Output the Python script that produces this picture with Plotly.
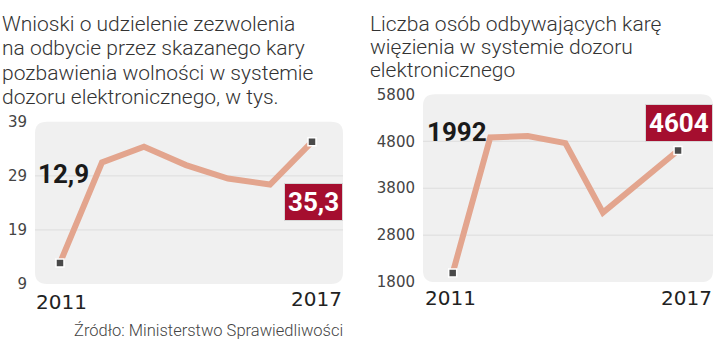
import plotly.graph_objects as go

years = [2011, 2012, 2013, 2014, 2015, 2016, 2017]
wnioski = [12.9, 31.5, 34.4, 31.0, 28.5, 27.4, 35.3]
osoby = [1992, 4880, 4910, 4760, 3280, 3940, 4604]
left_ticks = [9, 19, 29, 39]
right_ticks = [1800, 2800, 3800, 4800, 5800]
year_labels = [2011, 2017]

title_left = ["Wnioski o udzieleni\u0065 zezwolenia", "na odbycie przez skazanego kary",
              "pozbawienia wolności w systemie", "dozoru elektronicznego, w tys."]
title_right = ["Liczba osób odbywających karę", "więzienia w systemie dozoru", "elektronicznego"]
source = "Źródło: Ministerstwo Sprawiedliwości"

W, H = 720, 348
LINE = "#e3a58e"
RED = "#a50e2f"
FONT = "Roboto"
NUMFONT = "DejaVu Sans"

def px(x):
    return x / W

def py(y):
    return 1 - y / H

fig = go.Figure()

for xa, ya, vals in (("x", "y", wnioski), ("x2", "y2", osoby)):
    fig.add_trace(go.Scatter(x=years, y=vals, xaxis=xa, yaxis=ya, mode="lines",
                             line=dict(color=LINE, width=6), hoverinfo="skip", showlegend=False))
    fig.add_trace(go.Scatter(x=[years[0], years[-1]], y=[vals[0], vals[-1]], xaxis=xa, yaxis=ya,
                             mode="markers",
                             marker=dict(symbol="square", size=8, color="#4a4a4a",
                                         line=dict(color="white", width=1.5)),
                             hoverinfo="skip", showlegend=False))

def rounded(x0, y0, x1, y1, r=12):
    X0, X1 = px(x0), px(x1)
    Y0, Y1 = py(y1), py(y0)
    rx, ry = r / W, r / H
    return (f"M {X0+rx} {Y1} L {X1-rx} {Y1} Q {X1} {Y1} {X1} {Y1-ry} "
            f"L {X1} {Y0+ry} Q {X1} {Y0} {X1-rx} {Y0} L {X0+rx} {Y0} "
            f"Q {X0} {Y0} {X0} {Y0+ry} L {X0} {Y1-ry} Q {X0} {Y1} {X0+rx} {Y1} Z")

shapes = [
    dict(type="path", xref="paper", yref="paper", path=rounded(35, 119, 343, 290),
         fillcolor="#f0f0f0", line=dict(width=0), layer="below"),
    dict(type="path", xref="paper", yref="paper", path=rounded(423, 90, 713, 288),
         fillcolor="#f0f0f0", line=dict(width=0), layer="below"),
]
for t in left_ticks[1:-1]:
    shapes.append(dict(type="line", xref="x domain", yref="y", x0=0, x1=1, y0=t, y1=t,
                       line=dict(color="#dddddd", width=1), layer="below"))
for t in right_ticks[1:-1]:
    shapes.append(dict(type="line", xref="x2 domain", yref="y2", x0=0, x1=1, y0=t, y1=t,
                       line=dict(color="#dddddd", width=1), layer="below"))

def fmt(v):
    return f"{v:.1f}".replace(".", ",") if isinstance(v, float) else str(v)

TITLE_FONT = dict(family=FONT, size=21, color="#333", weight=300)
annotations = []
for line, yc in zip(title_left, [15.5, 41.3, 67.1, 92.8]):
    annotations.append(dict(text=line, x=px(1), y=py(yc), xref="paper", yref="paper",
                            xanchor="left", yanchor="middle", showarrow=False, font=TITLE_FONT,
                            borderpad=0))
for line, yc in zip(title_right, [15.5, 40.0, 64.5]):
    annotations.append(dict(text=line, x=px(369), y=py(yc), xref="paper", yref="paper",
                            xanchor="left", yanchor="middle", showarrow=False, font=TITLE_FONT,
                            borderpad=0))

annotations += [
    dict(text=source, x=px(344), y=py(339.5), xref="paper", yref="paper", xanchor="right",
         yanchor="middle", showarrow=False, borderpad=0,
         font=dict(family=FONT, size=16.5, color="#444", weight=300)),
    dict(text=f"<b>{fmt(wnioski[0])}</b>", x=px(36), y=py(174), xref="paper", yref="paper",
         xanchor="left", yanchor="middle", showarrow=False,
         font=dict(family=FONT, size=26, color="#1a1a1a")),
    dict(text=f"<b>{fmt(wnioski[-1])}</b>", x=px(343), y=py(204), xref="paper", yref="paper",
         xanchor="right", yanchor="middle", showarrow=False, bgcolor=RED, bordercolor="#d6d6d6",
         borderwidth=1, borderpad=3, font=dict(family=FONT, size=26, color="white")),
    dict(text=f"<b>{fmt(osoby[0])}</b>", x=px(425), y=py(129.7), xref="paper", yref="paper",
         xanchor="left", yanchor="middle", showarrow=False,
         font=dict(family=FONT, size=26, color="#1a1a1a")),
    dict(text=f"<b>{fmt(osoby[-1])}</b>", x=px(713), y=py(120), xref="paper", yref="paper",
         xanchor="right", yanchor="middle", showarrow=False, bgcolor=RED, bordercolor="#d6d6d6",
         borderwidth=1, borderpad=3, font=dict(family=FONT, size=26, color="white")),
]

# year labels under each chart, anchored to the data x positions
YEAR_FONT = dict(family=NUMFONT, size=20, color="#222")
for xr, yrs_pos in (("x", [(1.5, 309), (4, 306)]), ("x2", [(-2, 304.6), (8.7, 304.6)])):
    for yr, (shift, yc) in zip(year_labels, yrs_pos):
        annotations.append(dict(text=str(yr), x=yr, xref=xr, xshift=shift, y=py(yc), yref="paper",
                                xanchor="center", yanchor="middle", showarrow=False, borderpad=0,
                                font=YEAR_FONT))

xcommon = dict(showticklabels=False, showgrid=False, zeroline=False, showline=False, ticks="",
               fixedrange=True)
ycommon = dict(showgrid=False, zeroline=False, showline=False, ticks="outside", ticklen=4,
               tickcolor="rgba(0,0,0,0)", tickfont=dict(family=NUMFONT, size=15, color="#444"),
               fixedrange=True)

fig.update_layout(
    width=W, height=H, margin=dict(l=0, r=0, t=0, b=0),
    paper_bgcolor="white", plot_bgcolor="rgba(0,0,0,0)",
    xaxis=dict(domain=[px(35), px(343)], range=[2010.405, 2017.738], anchor="y", **xcommon),
    yaxis=dict(domain=[py(290), py(119)], range=[9, 39], tickvals=left_ticks, anchor="x", **ycommon),
    xaxis2=dict(domain=[px(423), px(713)], range=[2010.21, 2017.93], anchor="y2", **xcommon),
    yaxis2=dict(domain=[py(288), py(90)], range=[1800, 5800], tickvals=right_ticks, anchor="x2", **ycommon),
    shapes=shapes, annotations=annotations, showlegend=False,
)

fig.write_html("out.html", config=dict(displayModeBar=False))
